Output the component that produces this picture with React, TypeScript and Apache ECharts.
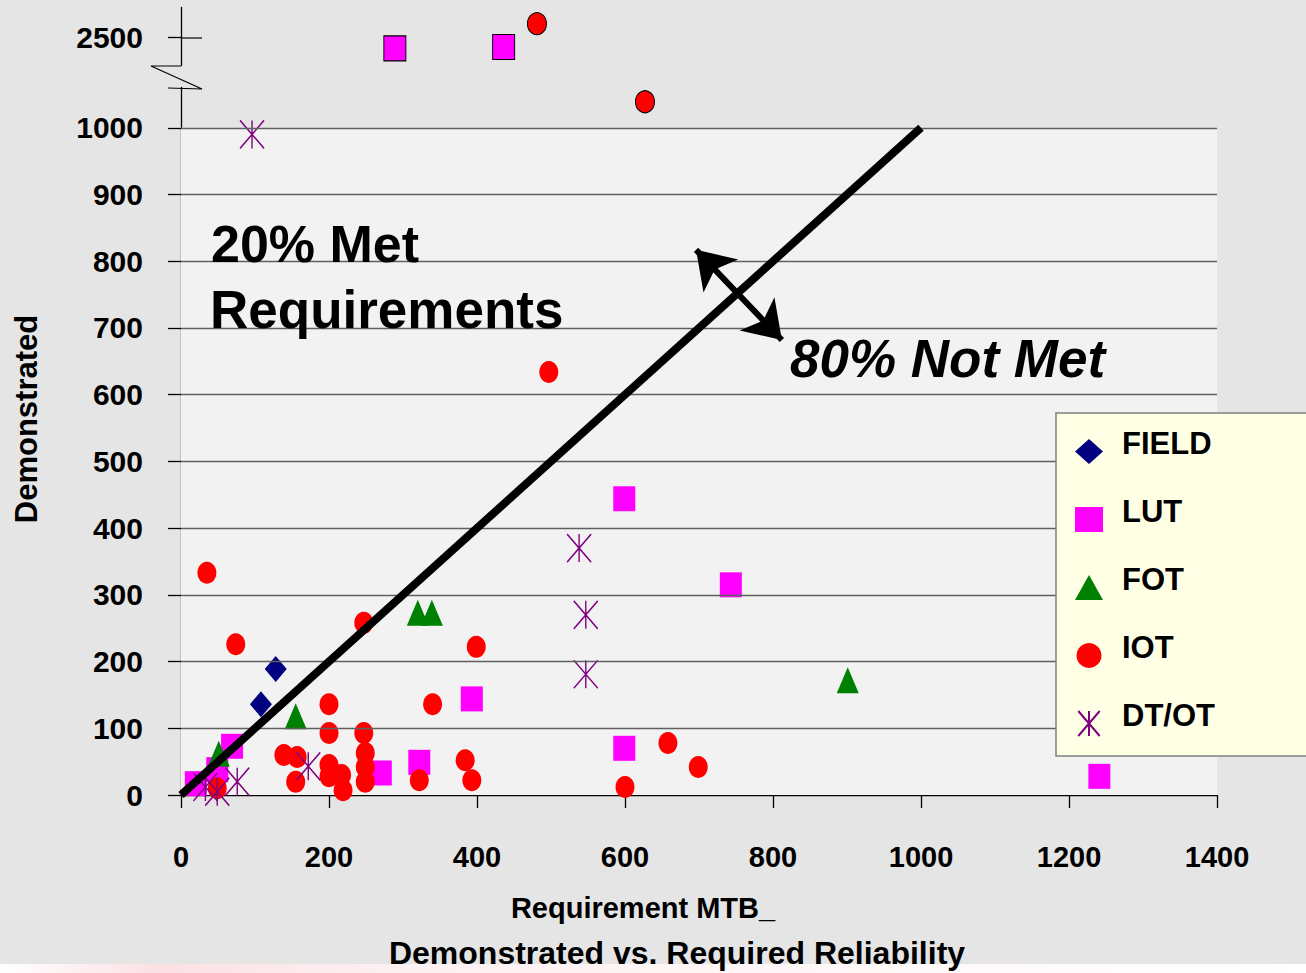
import React, { useEffect, useRef } from 'react';
import * as echarts from 'echarts';

const FONT = '"Liberation Sans", Arial, Helvetica, sans-serif';

// Axis ticks
const xMin = 0;
const xMax = 1400;
const xInterval = 200;
const yTickValues = [0, 100, 200, 300, 400, 500, 600, 700, 800, 900, 1000, 2500];
const gridLineValues = [100, 200, 300, 400, 500, 600, 700, 800, 900, 1000];
const plotAreaMax = 1000;

// Broken y axis: 1060 .. 2458 is cut out
const yMax = 2546;
const breakStart = 1060;
const breakEnd = 2458;
const breakGap = 33;

// Series values [Requirement, Demonstrated]
const fieldData = [
  [108, 136],
  [128, 189],
];
const lutData = [
  [20, 17], [49, 38], [69, 73], [270, 33], [322, 49], [393, 144],
  [599, 70], [599, 444], [743, 315], [1241, 28], [289, 2484], [436, 2486],
];
const fotData = [
  [51, 62], [155, 118], [320, 273], [339, 273], [901, 172],
];
const iotData = [
  [35, 333], [74, 226], [247, 258], [399, 222], [200, 136], [340, 136],
  [200, 93], [247, 93], [139, 60], [157, 57], [155, 20], [200, 45],
  [200, 28], [217, 30], [219, 7], [249, 63], [249, 42], [249, 20],
  [322, 22], [384, 52], [393, 22], [49, 10], [497, 634], [658, 78],
  [699, 42], [600, 12], [481, 2521], [627, 1039],
];
const dtotData = [
  [96, 990], [538, 370], [547, 270], [547, 181], [172, 43],
  [33, 12], [49, 5], [76, 20],
];

// Reference line (Demonstrated = Required) and the double arrow across it
const refLine = [[0, 0], [1000, 1000]];
const arrowEnds = [[696, 817], [812, 682]];

const STAR = 'path://M0,0L24,28M24,0L0,28M12,0L12,28';

const withOffScaleBorder = (data: number[][]) =>
  data.map((p) =>
    p[1] > plotAreaMax
      ? { value: p, itemStyle: { borderColor: '#000', borderWidth: 1 } }
      : p
  );

const plainNumber = (v: number) => String(v);

export default function App() {
  const ref = useRef<HTMLDivElement>(null);

  useEffect(() => {
    document.body.style.margin = '0';
    if (!ref.current) return;
    const chart = echarts.init(ref.current, null, { renderer: 'svg' });

    const scatterBase = { type: 'scatter', z: 3 };
    const labelFont = {
      fontSize: 29,
      fontWeight: 'bold',
      color: '#000',
      fontFamily: FONT,
    };

    const option: any = {
      animation: false,
      backgroundColor: '#e5e5e5',
      grid: { left: 181, top: 7, width: 1036, height: 788 },
      xAxis: {
        type: 'value',
        min: xMin,
        max: xMax,
        interval: xInterval,
        axisLine: { show: true, lineStyle: { color: '#000', width: 1.3 } },
        axisTick: { show: true, length: 13, lineStyle: { color: '#000', width: 1.3 } },
        axisLabel: { ...labelFont, margin: 47, formatter: plainNumber },
        splitLine: { show: false },
      },
      yAxis: {
        type: 'value',
        min: 0,
        max: yMax,
        breaks: [{ start: breakStart, end: breakEnd, gap: breakGap }],
        breakArea: { show: false },
        axisLine: { show: true, lineStyle: { color: '#000', width: 1.3 } },
        axisTick: {
          show: true,
          length: 13,
          customValues: yTickValues,
          lineStyle: { color: '#000', width: 1.3 },
        },
        axisLabel: {
          ...labelFont,
          fontSize: 30,
          customValues: yTickValues,
          margin: 38,
          formatter: plainNumber,
        },
        splitLine: { show: false },
      },
      legend: {
        orient: 'vertical',
        left: 1056,
        top: 413,
        z: 20,
        data: ['FIELD', 'LUT', 'FOT', 'IOT', 'DT/OT'],
        itemWidth: 28,
        itemHeight: 25,
        itemGap: 28,
        padding: [15, 120, 16, 19],
        backgroundColor: '#ffffe6',
        borderColor: '#808080',
        borderWidth: 1.5,
        selectedMode: false,
        formatter: (name: string) => `{t|${name}}\n{s| }`,
        textStyle: {
          color: '#000',
          fontFamily: FONT,
          padding: [0, 0, 0, 14],
          rich: {
            t: {
              fontSize: 31,
              fontWeight: 'bold',
              color: '#000',
              fontFamily: FONT,
              lineHeight: 31,
            },
            s: { fontSize: 2, lineHeight: 16 },
          },
        },
      },
      series: [
        {
          name: 'plotArea',
          type: 'line',
          data: [],
          z: 1,
          silent: true,
          markArea: {
            silent: true,
            itemStyle: { color: '#f2f2f2' },
            data: [[{ coord: [xMin, 0] }, { coord: [xMax, plotAreaMax] }]],
          },
        },
        {
          name: 'gridLines',
          type: 'line',
          data: [],
          z: 2,
          silent: true,
          markLine: {
            silent: true,
            symbol: ['none', 'none'],
            label: { show: false },
            lineStyle: { color: '#5f5f5f', width: 1.3, type: 'solid' },
            data: gridLineValues.map((v) => ({ yAxis: v })),
          },
        },
        {
          ...scatterBase,
          name: 'FIELD',
          symbol: 'diamond',
          symbolSize: [22, 26],
          itemStyle: { color: '#000080', opacity: 1 },
          data: fieldData,
        },
        {
          ...scatterBase,
          name: 'LUT',
          symbol: 'rect',
          symbolSize: [22, 25],
          itemStyle: { color: '#ff00ff', opacity: 1 },
          data: withOffScaleBorder(lutData),
        },
        {
          ...scatterBase,
          name: 'FOT',
          symbol: 'triangle',
          symbolSize: [22, 26],
          itemStyle: { color: '#008000', opacity: 1 },
          data: fotData,
        },
        {
          ...scatterBase,
          name: 'IOT',
          symbol: 'circle',
          symbolSize: [19, 22],
          itemStyle: { color: '#ff0000', opacity: 1 },
          data: withOffScaleBorder(iotData),
        },
        {
          ...scatterBase,
          name: 'DT/OT',
          symbol: STAR,
          symbolSize: [24, 28],
          itemStyle: {
            color: 'rgba(0,0,0,0)',
            borderColor: '#800080',
            borderWidth: 1.5,
            opacity: 1,
          },
          data: dtotData,
        },
        {
          name: 'refLine',
          type: 'line',
          z: 5,
          silent: true,
          showSymbol: false,
          symbol: 'none',
          lineStyle: { color: '#000', width: 8 },
          data: refLine,
          markLine: {
            silent: true,
            symbol: ['arrow', 'arrow'],
            symbolSize: 36,
            label: { show: false },
            lineStyle: { color: '#000', width: 6, type: 'solid' },
            data: [[{ coord: arrowEnds[0] }, { coord: arrowEnds[1] }]],
          },
        },
      ],
      graphic: [
        {
          type: 'polyline',
          z: 10,
          shape: { points: [[181, 66], [151, 66], [202, 89], [168, 88]] },
          style: { stroke: '#000', lineWidth: 1.2, fill: null },
        },
        {
          type: 'line',
          z: 10,
          shape: { x1: 181, y1: 38, x2: 202, y2: 38 },
          style: { stroke: '#000', lineWidth: 1.2 },
        },
        {
          type: 'text',
          z: 10,
          x: 211,
          y: 244,
          style: {
            text: '20% Met',
            font: 'bold 52px ' + FONT,
            fill: '#000',
            verticalAlign: 'middle',
          },
        },
        {
          type: 'text',
          z: 10,
          x: 210,
          y: 309,
          style: {
            text: 'Requirements',
            font: 'bold 53px ' + FONT,
            fill: '#000',
            verticalAlign: 'middle',
          },
        },
        {
          type: 'text',
          z: 10,
          x: 790,
          y: 358,
          style: {
            text: '80% Not Met',
            font: 'italic bold 53px ' + FONT,
            fill: '#000',
            verticalAlign: 'middle',
          },
        },
        {
          type: 'text',
          z: 10,
          x: 26,
          y: 419,
          rotation: Math.PI / 2,
          style: {
            text: 'Demonstrated',
            font: 'bold 31px ' + FONT,
            fill: '#000',
            align: 'center',
            verticalAlign: 'middle',
          },
        },
        {
          type: 'text',
          z: 10,
          x: 643,
          y: 908,
          style: {
            text: 'Requirement MTB_',
            font: 'bold 29px ' + FONT,
            fill: '#000',
            align: 'center',
            verticalAlign: 'middle',
          },
        },
        {
          type: 'text',
          z: 10,
          x: 677,
          y: 953,
          style: {
            text: 'Demonstrated vs. Required Reliability',
            font: 'bold 32px ' + FONT,
            fill: '#000',
            align: 'center',
            verticalAlign: 'middle',
          },
        },
        {
          type: 'rect',
          z: 0,
          shape: { x: 0, y: 964, width: 1306, height: 9 },
          style: {
            fill: new echarts.graphic.LinearGradient(0, 0, 1, 0, [
              { offset: 0, color: '#ffffff' },
              { offset: 0.12, color: '#fbe0e4' },
              { offset: 0.3, color: '#fdf0f2' },
              { offset: 1, color: '#ffffff' },
            ]),
          },
        },
      ],
    };

    chart.setOption(option);
    return () => chart.dispose();
  }, []);

  return <div ref={ref} style={{ width: 1306, height: 973 }} />;
}
